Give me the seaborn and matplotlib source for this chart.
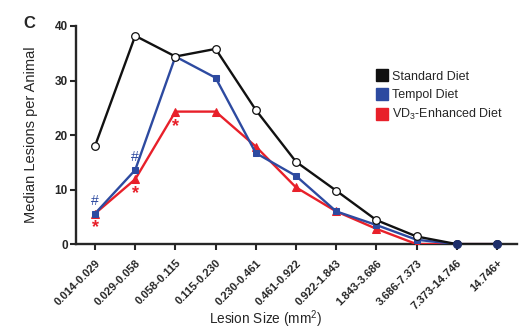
import matplotlib
matplotlib.use("Agg")
import matplotlib.pyplot as plt
import seaborn as sns
import pandas as pd
from matplotlib.lines import Line2D

categories = ["0.014-0.029", "0.029-0.058", "0.058-0.115", "0.115-0.230",
              "0.230-0.461", "0.461-0.922", "0.922-1.843", "1.843-3.686",
              "3.686-7.373", "7.373-14.746", "14.746+"]
standard = [18.0, 38.2, 34.4, 35.8, 24.6, 15.1, 9.8, 4.4, 1.4, 0, 0]
tempol = [5.6, 13.6, 34.4, 30.5, 16.7, 12.5, 6.0, 3.5, 0.8, 0, 0]
vd3 = [5.6, 11.9, 24.3, 24.3, 17.9, 10.4, 6.0, 2.8, 0, 0, 0]
series_names = ["Standard Diet", "Tempol Diet", "VD$_3$-Enhanced Diet"]
hash_idx = [0, 1]
hash_y = [7.9, 15.9]
star_idx = [0, 1, 2]
star_y = [3.0, 9.2, 21.6]

sns.set_style("ticks")
plt.rcParams['font.family'] = ['Liberation Sans', 'DejaVu Sans']
plt.rcParams['mathtext.fontset'] = 'custom'
plt.rcParams['mathtext.rm'] = 'Liberation Sans'

fig = plt.figure(figsize=(5.25, 3.29), dpi=100)
ax = fig.add_axes([0.145, 0.258, 0.84, 0.663])

x = list(range(len(categories)))
colors = ["#111111", "#2d4aa0", "#e8202a"]
df_red = pd.DataFrame({"x": x, "y": vd3})
df_blue = pd.DataFrame({"x": x, "y": tempol})
df_black = pd.DataFrame({"x": x, "y": standard})

sns.lineplot(data=df_red, x="x", y="y", ax=ax, color=colors[2], lw=1.7,
             marker="^", markersize=5.5, markeredgecolor=colors[2], zorder=3)
sns.lineplot(data=df_blue, x="x", y="y", ax=ax, color=colors[1], lw=1.7,
             marker="s", markersize=5, markeredgecolor=colors[1], zorder=4)
sns.lineplot(data=df_black, x="x", y="y", ax=ax, color=colors[0], lw=1.7,
             marker="o", markersize=5.5, markerfacecolor="white",
             markeredgecolor=colors[0], markeredgewidth=0.9, zorder=5)
# zero points at the end appear as filled navy dots
ax.plot(x[-2:], [standard[-2], standard[-1]], ls="none", marker="o", ms=5.5,
        color="#1f2f6a", zorder=6, clip_on=False)

for i, yv in zip(hash_idx, hash_y):
    ax.text(i, yv, "#", color=colors[1], ha="center", va="center", fontsize=10)
for i, yv in zip(star_idx, star_y):
    ax.text(i, yv, "*", color=colors[2], ha="center", va="center", fontsize=13,
            fontweight="bold")

ax.set_xlim(-0.47, 10.5)
ax.set_ylim(0, 40)
ax.set_yticks([0, 10, 20, 30, 40])
ax.set_xticks(x)
ax.set_xticklabels(categories, rotation=45, ha="right", rotation_mode="anchor",
                   fontsize=8, fontweight="bold")
for lab in ax.get_yticklabels():
    lab.set_fontweight("bold")
    lab.set_fontsize(8.5)
ax.tick_params(axis="both", width=1.5, length=4, direction="out", pad=2)
ax.tick_params(axis="x", pad=6)
for s in ["left", "bottom"]:
    ax.spines[s].set_linewidth(1.7)
sns.despine(ax=ax)
ax.set_ylabel("Median Lesions per Animal", fontsize=10.5)
ax.yaxis.set_label_coords(-0.086, 0.5)
ax.set_xlabel("Lesion Size (mm$^2$)", fontsize=9.8, va="center")
ax.xaxis.set_label_coords(0.43, -0.345)

handles = [Line2D([], [], ls="none", marker="s", ms=8, color=c) for c in colors]
ax.legend(handles, series_names, loc="upper left", bbox_to_anchor=(0.68, 0.795),
          frameon=False, fontsize=9, handletextpad=0.3, labelspacing=0.5,
          handlelength=1.0, borderaxespad=0, borderpad=0)

fig.text(0.044, 0.915, "C", fontsize=12, fontweight="bold")
fig.savefig("out.png", dpi=100)
